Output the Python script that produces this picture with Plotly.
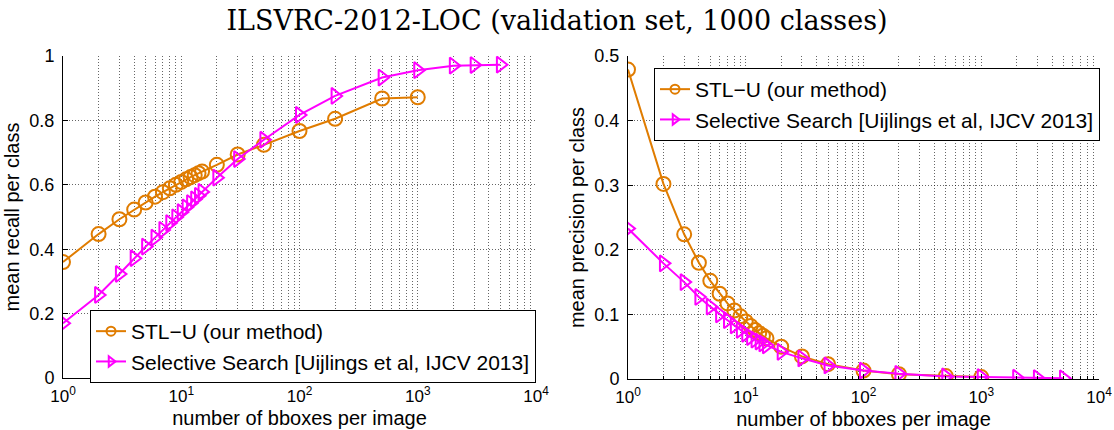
import plotly.graph_objects as go
from plotly.subplots import make_subplots

# number of proposals per image
counts_stl = [1, 2, 3, 4, 5, 6, 7, 8, 9, 10, 11, 12, 13, 14, 15, 20, 30, 50, 100, 200, 500, 1000]
counts_ss = [1, 2, 3, 4, 5, 6, 7, 8, 9, 10, 11, 12, 13, 14, 15, 20, 30, 50, 100, 200, 500, 1000,
             2000, 3000, 5000]

# mean recall per class
recall_stl = [0.360, 0.447, 0.493, 0.523, 0.545, 0.563, 0.577, 0.589, 0.600, 0.609, 0.617,
              0.624, 0.630, 0.636, 0.641, 0.662, 0.694, 0.724, 0.767, 0.805, 0.868, 0.872]
recall_ss = [0.170, 0.258, 0.323, 0.372, 0.408, 0.436, 0.460, 0.481, 0.499, 0.515, 0.530,
             0.543, 0.555, 0.566, 0.578, 0.622, 0.680, 0.740, 0.817, 0.876, 0.933, 0.956,
             0.970, 0.972, 0.973]

# mean precision per class
precision_stl = [0.479, 0.302, 0.224, 0.180, 0.152, 0.132, 0.117, 0.106, 0.097, 0.089, 0.082,
                 0.076, 0.071, 0.067, 0.063, 0.050, 0.035, 0.023, 0.013, 0.0075, 0.0045, 0.003]
precision_ss = [0.233, 0.179, 0.150, 0.127, 0.112, 0.100, 0.091, 0.083, 0.076, 0.070, 0.065,
                0.061, 0.058, 0.055, 0.052, 0.042, 0.032, 0.021, 0.013, 0.008, 0.004, 0.003,
                0.002, 0.0015, 0.001]

name_stl = "STL\u2212U (our method)"
name_ss = "Selective Search [Uijlings et al, IJCV 2013]"
title_text = "ILSVRC-2012-LOC (validation set, 1000 classes)"

x_tickvals = [1, 10, 100, 1000, 10000]
x_ticktext = ["10<sup>0</sup>", "10<sup>1</sup>", "10<sup>2</sup>", "10<sup>3</sup>", "10<sup>4</sup>"]
x_minor = [m * 10 ** d for d in range(4) for m in range(2, 10)]

ORANGE = "rgb(224,124,0)"
MAGENTA = "rgb(255,0,255)"
SANS = "Liberation Sans, Arial, sans-serif"
GRID_COLOR = "rgba(0,0,0,0.6)"
GRID_DASH = "1px,2px"

fig = make_subplots(rows=1, cols=2)


def add_series(col, x, y, color, symbol, name, legend):
    fig.add_trace(go.Scatter(
        x=x, y=y, mode="lines+markers", showlegend=False,
        line=dict(color=color, width=2),
        marker=dict(symbol=symbol, size=14, color=color, line=dict(color=color, width=2)),
    ), row=1, col=col)
    # legend entry with the smaller marker
    fig.add_trace(go.Scatter(
        x=[None], y=[None], mode="lines+markers", name=name, legend=legend,
        line=dict(color=color, width=2),
        marker=dict(symbol=symbol, size=9, color=color, line=dict(color=color, width=2)),
    ), row=1, col=col)


add_series(1, counts_stl, recall_stl, ORANGE, "circle-open", name_stl, "legend")
add_series(1, counts_ss, recall_ss, MAGENTA, "triangle-right-open", name_ss, "legend")
add_series(2, counts_stl, precision_stl, ORANGE, "circle-open", name_stl, "legend2")
add_series(2, counts_ss, precision_ss, MAGENTA, "triangle-right-open", name_ss, "legend2")

grid = dict(showgrid=True, gridcolor=GRID_COLOR, griddash=GRID_DASH, gridwidth=1)

xaxis_common = dict(
    type="log", range=[0, 4], tickmode="array", tickvals=x_tickvals, ticktext=x_ticktext,
    ticks="inside", ticklen=5, tickcolor="black", showline=True, linecolor="black",
    linewidth=1, zeroline=False, automargin=False, ticklabelstandoff=3,
    tickfont=dict(family=SANS, size=17, color="black"),
    minor=dict(tickmode="array", tickvals=x_minor, ticks="inside", ticklen=3,
               tickcolor="black", showgrid=True, gridcolor=GRID_COLOR,
               griddash=GRID_DASH, gridwidth=1),
    title=dict(text="number of bboxes per image", standoff=5,
               font=dict(family=SANS, size=20, color="black")),
    **grid,
)

yaxis_common = dict(
    ticks="inside", ticklen=5, tickcolor="black", showline=True, linecolor="black",
    linewidth=1, zeroline=False, automargin=False, ticklabelstandoff=4,
    tickfont=dict(family=SANS, size=18, color="black"),
    **grid,
)

fig.update_xaxes(domain=[63 / 1114, 536 / 1114], row=1, col=1, **xaxis_common)
fig.update_xaxes(domain=[628 / 1114, 1099 / 1114], row=1, col=2, **xaxis_common)

fig.update_yaxes(row=1, col=1, range=[0, 1], tickvals=[0, 0.2, 0.4, 0.6, 0.8, 1],
                 ticktext=["0", "0.2", "0.4", "0.6", "0.8", "1"],
                 domain=[1 - 378 / 430, 1 - 56 / 430],
                 title=dict(text="mean recall per class", standoff=4,
                            font=dict(family=SANS, size=20, color="black")),
                 **yaxis_common)
fig.update_yaxes(row=1, col=2, range=[0, 0.5], tickvals=[0, 0.1, 0.2, 0.3, 0.4, 0.5],
                 ticktext=["0", "0.1", "0.2", "0.3", "0.4", "0.5"],
                 domain=[1 - 379 / 430, 1 - 56 / 430],
                 title=dict(text="mean precision per class", standoff=4,
                            font=dict(family=SANS, size=20, color="black")),
                 **yaxis_common)

legend_style = dict(
    bgcolor="white", bordercolor="black", borderwidth=1,
    font=dict(family=SANS, size=21, color="black"),
    xanchor="left", yanchor="top", tracegroupgap=0, itemwidth=30,
)

fig.update_layout(
    width=1114, height=430,
    margin=dict(l=0, r=0, t=0, b=0),
    paper_bgcolor="white", plot_bgcolor="white",
    title=dict(text=title_text, x=0.5, xanchor="center", y=0.953, yanchor="middle",
               font=dict(family="DejaVu Serif, serif", size=27, color="black")),
    legend=dict(x=90 / 1114, y=1 - 310 / 430, **legend_style),
    legend2=dict(x=654 / 1114, y=1 - 68 / 430, **legend_style),
)

fig.write_html("out.html")
